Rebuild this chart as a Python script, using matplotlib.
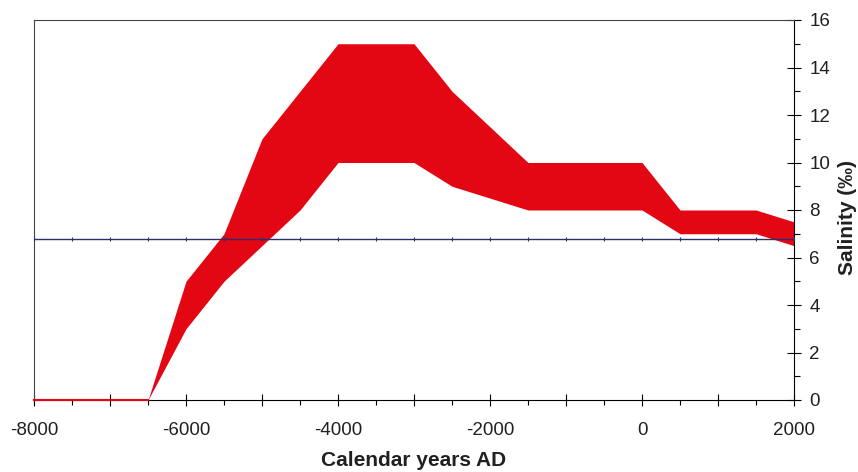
import numpy as np
import matplotlib
matplotlib.use("Agg")
import matplotlib.pyplot as plt
from matplotlib.ticker import MultipleLocator, FuncFormatter

plt.rcParams['font.family'] = ['Liberation Sans', 'DejaVu Sans']

# Salinity envelope (per mille), calendar years AD
years = [-6500, -6000, -5500, -5000, -4500, -4000, -3000, -2500, -1500, 0, 500, 1500, 2000]
upper = [0, 5, 7, 11, 13, 15, 15, 13, 10, 10, 8, 8, 7.5]
lower = [0, 3, 5, 6.5, 8, 10, 10, 9, 8, 8, 7, 7, 6.5]

# zero salinity before the connection
zero_years = [-8000, -6500]
zero_vals = [0, 0]

# present-day reference level
ref_level = 6.8
ref_ticks = np.arange(-8000, 2001, 500)

red = '#e30613'
navy = '#2e2d6e'
text_col = '#231f20'

fig = plt.figure(figsize=(8.58, 4.72), dpi=100)
ax = fig.add_axes([34 / 858, 72 / 472, 760 / 858, 380 / 472])

ax.fill_between(years, lower, upper, color=red, linewidth=0, zorder=2)
ax.plot(zero_years, zero_vals, color=red, linewidth=1.5, zorder=4, clip_on=False)
ax.axhline(ref_level, color=navy, linewidth=1.0, zorder=3)
ax.plot(ref_ticks, [ref_level] * len(ref_ticks), linestyle='none', marker='|',
        markersize=3, color=navy, markeredgewidth=0.8, zorder=3)

ax.set_xlim(-8000, 2000)
ax.set_ylim(0, 16)

# x axis: ticks every 500, labels every 2000
ax.xaxis.set_major_locator(MultipleLocator(1000))
ax.xaxis.set_minor_locator(MultipleLocator(500))
ax.xaxis.set_major_formatter(FuncFormatter(lambda v, p: f"{int(v)}" if int(v) % 2000 == 0 else ""))
ax.tick_params(axis='x', which='major', direction='inout', length=9, width=0.8,
               labelsize=13.5, pad=11, labelcolor=text_col)
ax.tick_params(axis='x', which='minor', direction='out', length=3.5, width=0.8)

# y axis on the right
ax.yaxis.tick_right()
ax.yaxis.set_label_position('right')
ax.yaxis.set_major_locator(MultipleLocator(2))
ax.yaxis.set_minor_locator(MultipleLocator(1))
ax.tick_params(axis='y', which='major', direction='inout', length=10, width=0.8,
               labelsize=13.5, pad=6, labelcolor=text_col)
ax.tick_params(axis='y', which='minor', direction='out', length=4, width=0.8)
ax.tick_params(axis='y', which='both', left=False)

for s in ax.spines.values():
    s.set_linewidth(0.8)
ax.spines['left'].set_color('#444444')
ax.spines['top'].set_color('#444444')

ax.set_xlabel('Calendar years AD', fontsize=15, fontweight='bold', labelpad=9,
              color=text_col)
ax.set_ylabel('Salinity (‰)', fontsize=15, fontweight='bold', labelpad=6,
              color=text_col)
ax.yaxis.label.set_y(0.48)

fig.savefig('out.png', dpi=100)
